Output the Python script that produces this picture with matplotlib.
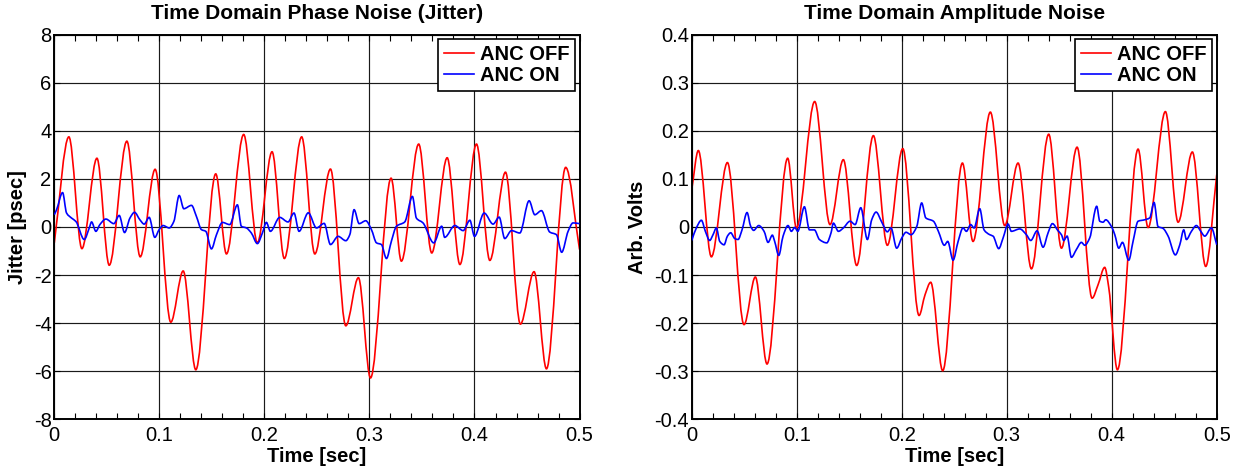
import numpy as np
import matplotlib
matplotlib.use('Agg')
import matplotlib.pyplot as plt
from matplotlib.path import Path
from matplotlib.patches import PathPatch
from matplotlib.lines import Line2D
from matplotlib.ticker import MultipleLocator

plt.rcParams['font.family'] = ['Liberation Sans', 'DejaVu Sans']

# ---- data (time in sec) ----
jit_off_t = [0, 0.0139, 0.0263, 0.0406, 0.0523, 0.0691, 0.0818, 0.0960, 0.1109, 0.1227,
             0.1347, 0.1537, 0.1639, 0.1803, 0.1933, 0.2073, 0.2190, 0.2355, 0.2480, 0.2629,
             0.2775, 0.2895, 0.3010, 0.3206, 0.3304, 0.3469, 0.3593, 0.3740, 0.3861, 0.4019,
             0.4146, 0.4295, 0.4437, 0.4567, 0.4685, 0.4868, 0.5]
jit_off = [-0.66, 3.75, -0.90, 2.86, -1.59, 3.57, -1.24, 2.40, -3.96, -1.83,
           -5.94, 2.21, -1.12, 3.85, -0.66, 3.13, -1.31, 3.75, -1.12, 2.41,
           -4.11, -2.11, -6.28, 2.03, -1.42, 3.45, -1.08, 2.88, -1.56, 3.45,
           -1.39, 2.28, -4.04, -1.86, -5.90, 2.48, -0.94]

jit_on_t = [0, 0.0022, 0.0079, 0.0117, 0.0165, 0.0206, 0.0285, 0.0333, 0.0355, 0.0396,
            0.0434, 0.0491, 0.0567, 0.0618, 0.0669, 0.0720, 0.0764, 0.0815, 0.0856, 0.0903,
            0.0957, 0.0998, 0.1036, 0.1094, 0.1138, 0.1189, 0.1233, 0.1306, 0.1353, 0.1401,
            0.1442, 0.1496, 0.1544, 0.1601, 0.1670, 0.1743, 0.1781, 0.1829, 0.1876, 0.1933,
            0.1981, 0.2019, 0.2057, 0.2146, 0.2225, 0.2282, 0.2330, 0.2418, 0.2496, 0.2569,
            0.2629, 0.2702, 0.2775, 0.2813, 0.2854, 0.2902, 0.2965, 0.3019, 0.3067, 0.3114,
            0.3162, 0.3209, 0.3257, 0.3336, 0.3409, 0.3447, 0.3510, 0.3612, 0.3688, 0.3716,
            0.3813, 0.3892, 0.3956, 0.4000, 0.4092, 0.4177, 0.4235, 0.4288, 0.4352, 0.4431,
            0.4520, 0.4574, 0.4637, 0.4716, 0.4780, 0.4830, 0.4891, 0.4938, 0.5]
jit_on = [0.51, 0.72, 1.43, 0.58, 0.37, 0.23, -0.52, -0.04, 0.21, -0.18,
          0.10, 0.33, 0.14, 0.48, -0.23, 0.37, 0.61, 0.30, 0.12, 0.40,
          -0.43, -0.11, 0.06, -0.04, 0.23, 1.31, 0.76, 0.90, 0.44, -0.11,
          -0.18, -0.91, -0.32, 0.19, 0.10, 0.92, 0.03, -0.04, -0.25, -0.69,
          -0.25, 0.19, -0.18, 0.40, 0.21, 0.58, -0.18, 0.59, -0.04, 0.15,
          -0.73, -0.39, -0.57, -0.32, 0.72, 0.14, 0.26, -0.11, -0.66, -0.73,
          -1.31, -0.59, 0.03, 0.21, 1.27, 0.37, 0.17, -0.66, 0.03, -0.43,
          0.06, -0.15, 0.28, -0.39, 0.58, 0.12, 0.41, -0.48, -0.15, -0.25,
          1.09, 0.51, 0.68, -0.21, -0.32, -1.05, -0.18, 0.17, 0.14]

amp_off_t = [0, 0.0063, 0.0187, 0.0340, 0.0498, 0.0606, 0.0717, 0.0914, 0.0997, 0.1171,
             0.1317, 0.1444, 0.1571, 0.1730, 0.1863, 0.2010, 0.2165, 0.2222, 0.2276, 0.2390,
             0.2578, 0.2679, 0.2844, 0.2981, 0.3108, 0.3235, 0.3400, 0.3521, 0.3670, 0.3813,
             0.3870, 0.3933, 0.3971, 0.4054, 0.4251, 0.4346, 0.4511, 0.4632, 0.4768, 0.4895, 0.5]
amp_off = [0.078, 0.159, -0.062, 0.134, -0.203, -0.104, -0.285, 0.143, -0.002, 0.261,
           0.005, 0.140, -0.080, 0.190, -0.038, 0.163, -0.184, -0.141, -0.115, -0.299,
           0.133, -0.030, 0.239, 0.003, 0.133, -0.087, 0.193, -0.044, 0.166, -0.148,
           -0.120, -0.084, -0.125, -0.297, 0.162, -0.001, 0.240, 0.010, 0.156, -0.082, 0.109]

amp_on_t = [0, 0.0044, 0.0092, 0.0130, 0.0171, 0.0203, 0.0235, 0.0267, 0.0308, 0.0340,
            0.0371, 0.0410, 0.0441, 0.0479, 0.0527, 0.0562, 0.0590, 0.0638, 0.0689, 0.0727,
            0.0768, 0.0790, 0.0829, 0.0870, 0.0917, 0.0949, 0.0981, 0.1010, 0.1073, 0.1121,
            0.1168, 0.1216, 0.1286, 0.1327, 0.1349, 0.1397, 0.1444, 0.1508, 0.1556, 0.1610,
            0.1673, 0.1714, 0.1756, 0.1810, 0.1863, 0.1898, 0.1952, 0.2000, 0.2041, 0.2089,
            0.2143, 0.2190, 0.2229, 0.2302, 0.2349, 0.2406, 0.2438, 0.2489, 0.2537, 0.2584,
            0.2616, 0.2657, 0.2689, 0.2743, 0.2784, 0.2838, 0.2870, 0.2924, 0.2965, 0.3013,
            0.3044, 0.3124, 0.3187, 0.3229, 0.3289, 0.3346, 0.3394, 0.3435, 0.3489, 0.3521,
            0.3543, 0.3575, 0.3616, 0.3663, 0.3711, 0.3743, 0.3790, 0.3857, 0.3886, 0.3917,
            0.3943, 0.3997, 0.4029, 0.4067, 0.4102, 0.4162, 0.4203, 0.4251, 0.4314, 0.4362,
            0.4403, 0.4441, 0.4489, 0.4537, 0.4606, 0.4648, 0.4686, 0.4711, 0.4759, 0.4806,
            0.4848, 0.4886, 0.4949, 0.5]
amp_on = [-0.028, -0.002, 0.014, -0.009, -0.028, -0.016, -0.002, -0.030, -0.037, -0.019,
          -0.012, -0.024, -0.026, -0.006, 0.030, 0.001, -0.007, 0.003, -0.009, -0.032,
          -0.017, -0.030, -0.059, -0.019, 0.003, -0.009, -0.001, -0.009, 0.042, -0.006,
          -0.006, -0.026, -0.033, -0.012, 0.008, -0.009, -0.002, 0.012, 0.005, 0.040,
          -0.026, 0.015, 0.031, 0.010, -0.010, -0.002, -0.044, -0.023, -0.011, -0.016,
          0.001, 0.050, 0.019, 0.012, -0.009, -0.038, -0.030, -0.069, -0.030, -0.002,
          -0.009, 0.005, -0.002, 0.038, -0.006, -0.016, -0.019, -0.045, -0.023, 0.006,
          -0.009, -0.004, -0.016, -0.028, -0.008, -0.042, -0.012, 0.007, -0.008, -0.016,
          -0.028, -0.019, -0.063, -0.047, -0.032, -0.038, -0.023, 0.043, 0.012, 0.010,
          0.015, 0.001, -0.016, -0.044, -0.032, -0.069, -0.030, 0.012, 0.015, 0.019,
          0.051, 0.001, -0.003, -0.019, -0.058, -0.037, -0.006, -0.026, -0.009, 0.003,
          -0.009, -0.019, -0.002, -0.037]

series_labels = ['ANC OFF', 'ANC ON']
titles = ['Time Domain Phase Noise (Jitter)', 'Time Domain Amplitude Noise']
ylabels = ['Jitter [psec]', 'Arb. Volts']
xticks = [0, 0.1, 0.2, 0.3, 0.4, 0.5]
xtick_labels = ['0', '0.1', '0.2', '0.3', '0.4', '0.5']
jit_ticks = [-8, -6, -4, -2, 0, 2, 4, 6, 8]
jit_tick_labels = ['-8', '-6', '-4', '-2', '0', '2', '4', '6', '8']
amp_ticks = [-0.4, -0.3, -0.2, -0.1, 0, 0.1, 0.2, 0.3, 0.4]
amp_tick_labels = ['-0.4', '-0.3', '-0.2', '-0.1', '0', '0.1', '0.2', '0.3', '0.4']


def smooth_path(x, y):
    # monotone cubic (Fritsch-Carlson) through the read points, drawn as bezier
    x = np.asarray(x, float)
    y = np.asarray(y, float)
    h = np.diff(x)
    d = np.diff(y) / h
    m = np.zeros_like(y)
    m[0] = d[0]
    m[-1] = d[-1]
    for i in range(1, len(y) - 1):
        if d[i - 1] * d[i] > 0:
            w1 = 2 * h[i] + h[i - 1]
            w2 = h[i] + 2 * h[i - 1]
            m[i] = (w1 + w2) / (w1 / d[i - 1] + w2 / d[i])
    verts = [(x[0], y[0])]
    for i in range(len(h)):
        verts.append((x[i] + h[i] / 3, y[i] + m[i] * h[i] / 3))
        verts.append((x[i + 1] - h[i] / 3, y[i + 1] - m[i + 1] * h[i] / 3))
        verts.append((x[i + 1], y[i + 1]))
    codes = [Path.MOVETO] + [Path.CURVE4] * (3 * len(h))
    return Path(verts, codes)


fig = plt.figure(figsize=(12.45, 4.69), dpi=100)
ax1 = fig.add_axes([0.0436, 0.106, 0.4219, 0.820])
ax2 = fig.add_axes([0.5556, 0.106, 0.4217, 0.820])

panels = [
    (ax1, jit_off_t, jit_off, jit_on_t, jit_on, jit_ticks, jit_tick_labels, (-8, 8)),
    (ax2, amp_off_t, amp_off, amp_on_t, amp_on, amp_ticks, amp_tick_labels, (-0.4, 0.4)),
]

for k, (ax, t1, v1, t2, v2, yt, ytl, ylim) in enumerate(panels):
    ax.add_patch(PathPatch(smooth_path(t1, v1), fill=False, edgecolor='#ff0000', lw=1.2, zorder=2))
    ax.add_patch(PathPatch(smooth_path(t2, v2), fill=False, edgecolor='#0000ff', lw=1.2, zorder=3))
    ax.set_xlim(0, 0.5)
    ax.set_ylim(*ylim)
    ax.set_xticks(xticks)
    ax.set_xticklabels(xtick_labels)
    ax.set_yticks(yt)
    ax.set_yticklabels(ytl)
    ax.xaxis.set_minor_locator(MultipleLocator(0.02))
    ax.tick_params(which='both', direction='in', top=True, right=True, length=4, width=0.8)
    ax.tick_params(axis='x', labelsize=14.5, pad=5)
    ax.tick_params(axis='y', labelsize=14.5, pad=2)
    ax.grid(True, which='major', color='#1a1a1a', lw=0.85, ls='-')
    ax.set_axisbelow(True)
    for sp in ax.spines.values():
        sp.set_linewidth(1.4)
    ax.set_title(titles[k], fontsize=15, fontweight='bold', pad=11)
    ax.set_xlabel('Time [sec]', fontsize=14.5, fontweight='bold', labelpad=1)
    ax.set_ylabel(ylabels[k], fontsize=14.5, fontweight='bold', labelpad=5)
    handles = [Line2D([], [], color='#ff0000', lw=1.2), Line2D([], [], color='#0000ff', lw=1.2)]
    leg = ax.legend(handles, series_labels, loc='upper right', fancybox=False, framealpha=1,
                    edgecolor='k', prop={'size': 14.5, 'weight': 'bold'},
                    borderpad=0.28, labelspacing=0.12, handlelength=1.5, handletextpad=0.3,
                    borderaxespad=0.22)
    leg.get_frame().set_linewidth(1.2)

fig.savefig('out.png', dpi=100, facecolor='white')
